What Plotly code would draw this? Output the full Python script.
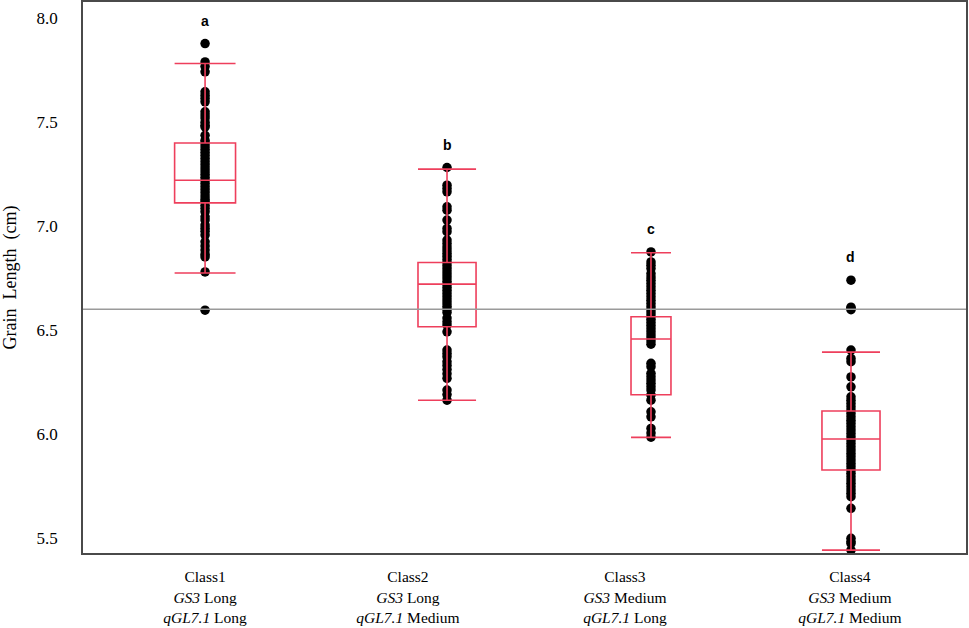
"""
Grain length by haplotype class (GS3 / qGL7.1) — box plot with individual lines
"""

import plotly.graph_objects as go

# ─────────────────────────────────────────────
# 1. DATA
# ─────────────────────────────────────────────

class_pos = [0.553, 1.649, 2.573, 3.479]          # box centres on the x axis
label_pos = [0.553, 1.472, 2.455, 3.474]          # where the class labels sit
class_labels = [
    "Class1<br><i>GS3</i> Long<br><i>qGL7.1</i> Long",
    "Class2<br><i>GS3</i> Long<br><i>qGL7.1</i> Medium",
    "Class3<br><i>GS3</i> Medium<br><i>qGL7.1</i> Long",
    "Class4<br><i>GS3</i> Medium<br><i>qGL7.1</i> Medium",
]
group_letters = ["a", "b", "c", "d"]

# box statistics (cm)
q1 = [7.112, 6.516, 6.189, 5.827]
median = [7.221, 6.721, 6.457, 5.976]
q3 = [7.400, 6.825, 6.564, 6.111]
lower_fence = [6.775, 6.163, 5.984, 5.442]
upper_fence = [7.782, 7.274, 6.872, 6.394]

ref_line = 6.6

class1 = [7.878, 7.790, 7.768, 7.742, 7.646, 7.630, 7.614, 7.598, 7.550, 7.535,
          7.520, 7.500, 7.485, 7.477, 7.437, 7.413, 7.400, 7.385, 7.370, 7.355,
          7.340, 7.325, 7.310, 7.295, 7.280, 7.265, 7.250, 7.235, 7.220, 7.205,
          7.190, 7.175, 7.160, 7.145, 7.130, 7.120, 7.100, 7.085, 7.069, 7.045,
          7.030, 7.005, 6.990, 6.975, 6.957, 6.925, 6.905, 6.885, 6.865, 6.852,
          6.780, 6.596]
class2 = [7.282, 7.197, 7.181, 7.165, 7.093, 7.077, 7.029, 6.989, 6.973, 6.933,
          6.917, 6.900, 6.885, 6.870, 6.855, 6.840, 6.825, 6.810, 6.795, 6.780,
          6.765, 6.750, 6.735, 6.720, 6.705, 6.690, 6.675, 6.660, 6.645, 6.630,
          6.615, 6.600, 6.585, 6.558, 6.540, 6.524, 6.492, 6.404, 6.388, 6.372,
          6.348, 6.330, 6.310, 6.290, 6.268, 6.212, 6.190, 6.163]
class3 = [6.876, 6.828, 6.812, 6.796, 6.772, 6.756, 6.740, 6.724, 6.708, 6.692,
          6.676, 6.660, 6.644, 6.628, 6.612, 6.597, 6.582, 6.567, 6.552, 6.537,
          6.522, 6.507, 6.492, 6.477, 6.462, 6.447, 6.432, 6.340, 6.324, 6.292,
          6.276, 6.260, 6.244, 6.228, 6.212, 6.188, 6.163, 6.107, 6.083, 6.027,
          6.005, 5.985]
class4 = [6.740, 6.610, 6.604, 6.598, 6.404, 6.364, 6.348, 6.275, 6.227, 6.179,
          6.163, 6.147, 6.131, 6.115, 6.099, 6.083, 6.067, 6.051, 6.035, 6.019,
          6.003, 5.987, 5.971, 5.955, 5.939, 5.923, 5.907, 5.891, 5.875, 5.859,
          5.843, 5.827, 5.811, 5.795, 5.779, 5.763, 5.747, 5.731, 5.715, 5.699,
          5.643, 5.499, 5.483, 5.474, 5.442]
points = [class1, class2, class3, class4]

# ─────────────────────────────────────────────
# 2. STYLE
# ─────────────────────────────────────────────

BOX_RED = "#EE3F5C"
FRAME = "#4a4a4a"
SERIF = "Liberation Serif, Times New Roman, serif"
box_widths = [0.276, 0.263, 0.181, 0.263]   # class3 box is drawn narrower

X_RANGE = [0, 4]
Y_RANGE = [5.428, 8.078]

fig = go.Figure()

# points on the base axes so the red boxes (overlay axes) sit on top of them
for pos, vals in zip(class_pos, points):
    fig.add_trace(go.Scatter(
        x=[pos] * len(vals), y=vals,
        mode="markers",
        marker=dict(color="black", size=9.5),
        showlegend=False, hoverinfo="y",
    ))

for i, pos in enumerate(class_pos):
    fig.add_trace(go.Box(
        x=[pos], q1=[q1[i]], median=[median[i]], q3=[q3[i]],
        lowerfence=[lower_fence[i]], upperfence=[upper_fence[i]],
        width=box_widths[i], whiskerwidth=1,
        line=dict(color=BOX_RED, width=1.6),
        fillcolor="rgba(0,0,0,0)",
        boxpoints=False, showlegend=False,
        xaxis="x2", yaxis="y2",
    ))

# significance letters just above the highest point of each class
for pos, vals, letter in zip(class_pos, points, group_letters):
    fig.add_annotation(
        x=pos, y=max(vals) + 0.11, text=f"<b>{letter}</b>",
        showarrow=False, yanchor="middle",
        font=dict(family="Liberation Sans, Arial, sans-serif", size=14, color="black"),
    )

fig.add_hline(y=ref_line, line_color="#9a9a9a", line_width=1.6)

fig.update_layout(
    width=969, height=628,
    margin=dict(l=83, r=3, t=2, b=75),
    plot_bgcolor="white", paper_bgcolor="white",
    showlegend=False,
    xaxis=dict(
        range=X_RANGE, tickvals=label_pos, ticktext=class_labels,
        showgrid=False, zeroline=False, automargin=False,
        showline=True, linecolor=FRAME, linewidth=1.6, mirror=True,
        ticks="", ticklabelstandoff=9,
        tickfont=dict(family=SERIF, size=15.5, color="black"),
    ),
    yaxis=dict(
        range=Y_RANGE, tickvals=[5.5, 6.0, 6.5, 7.0, 7.5, 8.0],
        ticktext=["5.5", "6.0", "6.5", "7.0", "7.5", "8.0"],
        showgrid=False, zeroline=False, automargin=False,
        showline=True, linecolor=FRAME, linewidth=1.6, mirror=True,
        ticks="", ticklabelstandoff=20,
        tickfont=dict(family=SERIF, size=17, color="black"),
        title=dict(text="Grain\u00a0\u00a0Length\u00a0\u00a0(cm)", standoff=17,
                   font=dict(family=SERIF, size=18, color="black")),
    ),
    xaxis2=dict(range=X_RANGE, overlaying="x", visible=False),
    yaxis2=dict(range=Y_RANGE, overlaying="y", visible=False),
)

# drop the page's default body margin so the 969x628 figure fills the window
fig.write_html("out.html",
               config={"displayModeBar": False},
               post_script="document.body.style.margin='0';document.body.style.overflow='hidden';")
